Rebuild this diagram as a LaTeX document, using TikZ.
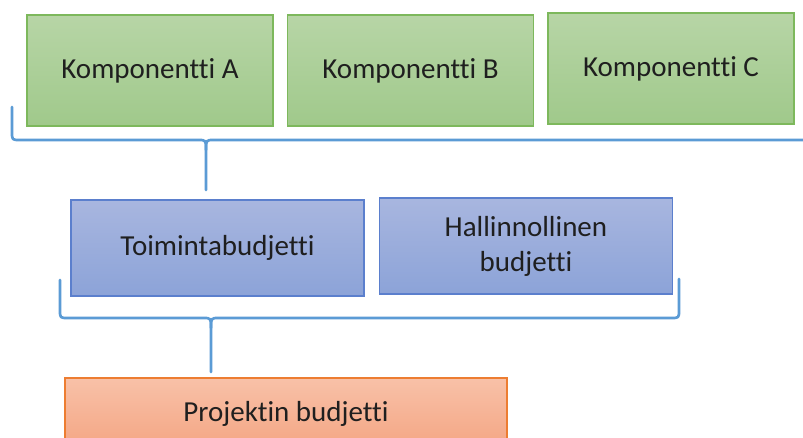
\documentclass[tikz,border=0pt]{standalone}
\usepackage{fontspec}
\setmainfont{Carlito}[RawFeature=-liga]
\definecolor{gtop}{RGB}{183,213,166}
\definecolor{gbot}{RGB}{160,201,139}
\definecolor{gline}{RGB}{125,184,92}
\definecolor{btop}{RGB}{168,182,223}
\definecolor{bbot}{RGB}{140,163,216}
\definecolor{bline}{RGB}{91,127,205}
\definecolor{otop}{RGB}{248,193,168}
\definecolor{obot}{RGB}{244,166,132}
\definecolor{oline}{RGB}{237,125,49}
\definecolor{brace}{RGB}{91,155,213}
\begin{document}
\begin{tikzpicture}[x=1pt,y=-1pt,
  box/.style={rectangle, line width=1.5pt, outer sep=0pt, inner sep=2pt, align=center,
    font=\fontsize{29}{35}\selectfont, text=black!88},
  gbox/.style={box, draw=gline, top color=gtop, bottom color=gbot, minimum width=246pt, minimum height=111pt},
  bbox/.style={box, draw=bline, top color=btop, bottom color=bbot, minimum width=293pt, minimum height=96pt},
  obox/.style={box, draw=oline, top color=otop, bottom color=obot},
  bracel/.style={draw=brace, line width=2.7pt, line cap=round, line join=round}]
\useasboundingbox (0,0) rectangle (803,438);
\clip (0,0) rectangle (803,438);
\fill[white] (0,0) rectangle (803,438);
% top row
\node[gbox] (a) at (150,70.5) {Komponentti A};
\node[gbox] (b) at (410.5,70.5) {Komponentti B};
\node[gbox] (c) at (671,68.5) {Komponentti C};
% middle row
\node[bbox] (t) at (217.5,248) {Toimintabudjetti};
\node[bbox] (h) at (526,246) {Hallinnollinen\\budjetti};
% bottom
\node[obox, minimum width=442pt, minimum height=70pt, anchor=north west] (p) at (65,378) {};
\node[font=\fontsize{29}{35}\selectfont, text=black!88] (pt) at (286,414) {Projektin budjetti};
% top brace
\coordinate (b1l) at (12,107);
\coordinate (b1r) at (812,107);
\coordinate (b1tip) at (206,190);
\path[bracel] (b1l) -- (12,132) .. controls (12,140) .. (20,140) -- (198,140)
  .. controls (206,140) .. (206,150) -- (b1tip);
\path[bracel] (b1r) -- (812,140) -- (214,140) .. controls (206,140) .. (206,150);
% bottom brace
\coordinate (b2l) at (60,280);
\coordinate (b2r) at (679,279);
\coordinate (b2tip) at (211,372);
\path[bracel] (b2l) -- (60,310) .. controls (60,318) .. (68,318) -- (203,318)
  .. controls (211,318) .. (211,328) -- (b2tip);
\path[bracel] (b2r) -- (679,310) .. controls (679,318) .. (671,318) -- (219,318)
  .. controls (211,318) .. (211,328);
\end{tikzpicture}
\end{document}
